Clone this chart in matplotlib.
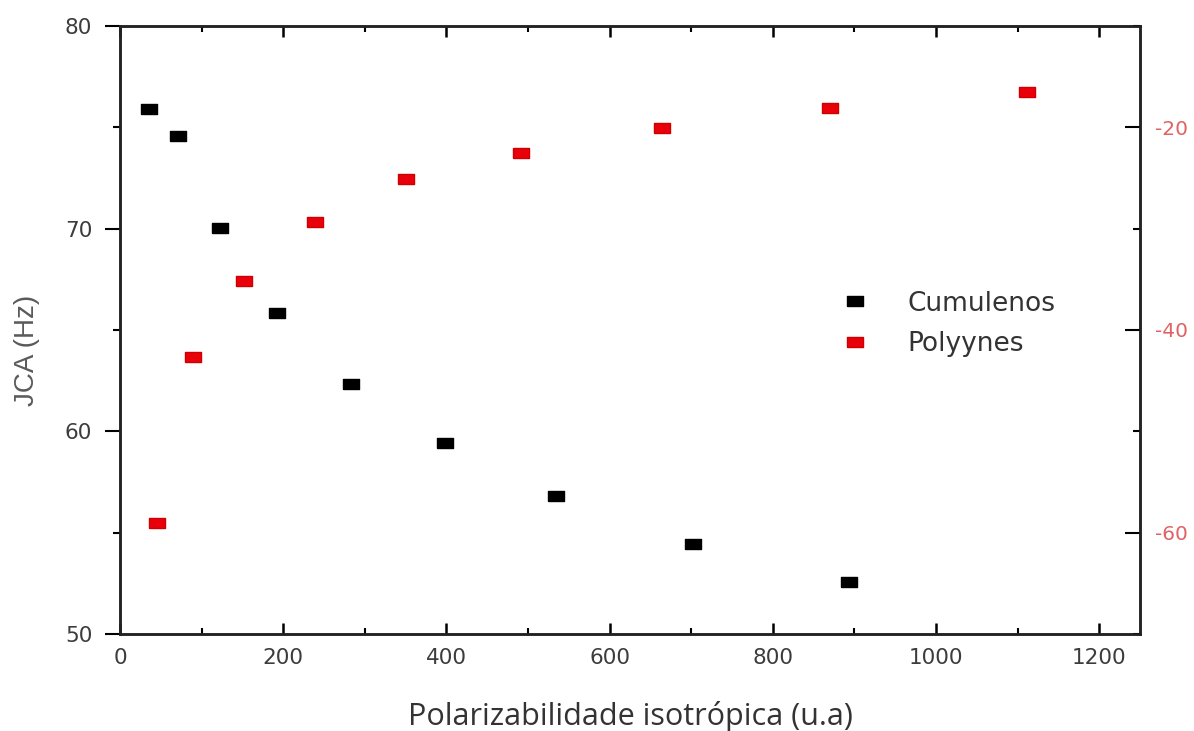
import numpy as np
import matplotlib
matplotlib.use('Agg')
import matplotlib.pyplot as plt
from matplotlib.ticker import MultipleLocator

plt.rcParams['axes.unicode_minus'] = False
plt.rcParams['font.family'] = 'DejaVu Sans'

# Cumulenos: polarizabilidade x JCA (eixo esquerdo)
pol_cumulenos = [35.5, 71.4, 122.4, 191.8, 283.7, 398, 534.7, 702, 893]
jca_cumulenos = [75.9, 74.57, 70.05, 65.83, 62.32, 59.41, 56.83, 54.46, 52.59]

# Polyynes: polarizabilidade x JCA (eixo direito)
pol_polyynes = [44.9, 89, 152.2, 238.8, 351, 491.8, 664, 870, 1111]
jca_polyynes = [-59.0, -42.64, -35.19, -29.34, -25.07, -22.54, -20.08, -18.11, -16.47]

# marcador retangular (mais largo que alto)
rect = [(-0.75, -0.5), (0.75, -0.5), (0.75, 0.5), (-0.75, 0.5), (-0.75, -0.5)]

fig = plt.figure(figsize=(11.94, 7.31), dpi=100)
ax = fig.add_axes([120 / 1194, 1 - 634 / 731, 1020 / 1194, 608 / 731])
ax2 = ax.twinx()

p1, = ax.plot(pol_cumulenos, jca_cumulenos, linestyle='none', marker=rect,
              markersize=11, color='black', label='Cumulenos')
p2, = ax2.plot(pol_polyynes, jca_polyynes, linestyle='none', marker=rect,
               markersize=11, color='#e8000b', markeredgecolor='#d00000', label='Polyynes')

ax.set_xlim(0, 1250)
ax.set_ylim(50, 80)
ax2.set_ylim(-70, -10)

ax.xaxis.set_major_locator(MultipleLocator(200))
ax.xaxis.set_minor_locator(MultipleLocator(100))
ax.yaxis.set_major_locator(MultipleLocator(10))
ax.yaxis.set_minor_locator(MultipleLocator(5))
ax2.yaxis.set_minor_locator(MultipleLocator(10))
ax2.set_yticks([-20, -40, -60])

for a in (ax, ax2):
    for s in a.spines.values():
        s.set_linewidth(1.8)
        s.set_color('#222222')

ax.tick_params(axis='x', which='major', direction='in', length=8, width=1.8,
               top=True, labelsize=15.5, labelcolor='#3c3c3c', pad=10)
ax.tick_params(axis='x', which='minor', direction='in', length=4.5, width=1.5, top=True)
ax.tick_params(axis='y', which='major', direction='out', length=11, width=1.5,
               labelsize=15.5, labelcolor='#3c3c3c', pad=9)
ax.tick_params(axis='y', which='minor', direction='out', length=5, width=1.5)
ax2.tick_params(axis='y', which='major', direction='in', length=11, width=1.5,
                labelsize=14.5, labelcolor='#e06262', pad=11)
ax2.tick_params(axis='y', which='minor', direction='in', length=5, width=1.5)

ax.set_ylabel('JCA (Hz)', fontsize=20, color='#5a5a5a', family='Liberation Sans', labelpad=20)
ax.yaxis.set_label_coords(-0.078, 0.467)
ax.set_xlabel('Polarizabilidade isotrópica (u.a)', fontsize=22, color='#333333',
              family='Open Sans', labelpad=24)

leg = ax2.legend(handles=[p1, p2], loc='center left', bbox_to_anchor=(0.674, 0.557),
                 bbox_transform=fig.transFigure, frameon=False,
                 prop={'family': 'DejaVu Sans', 'size': 19},
                 handlelength=2.0, handletextpad=1.0, labelspacing=0.55, markerscale=1.05)
for t in leg.get_texts():
    t.set_color('#333333')

fig.savefig('out.png', dpi=100)
